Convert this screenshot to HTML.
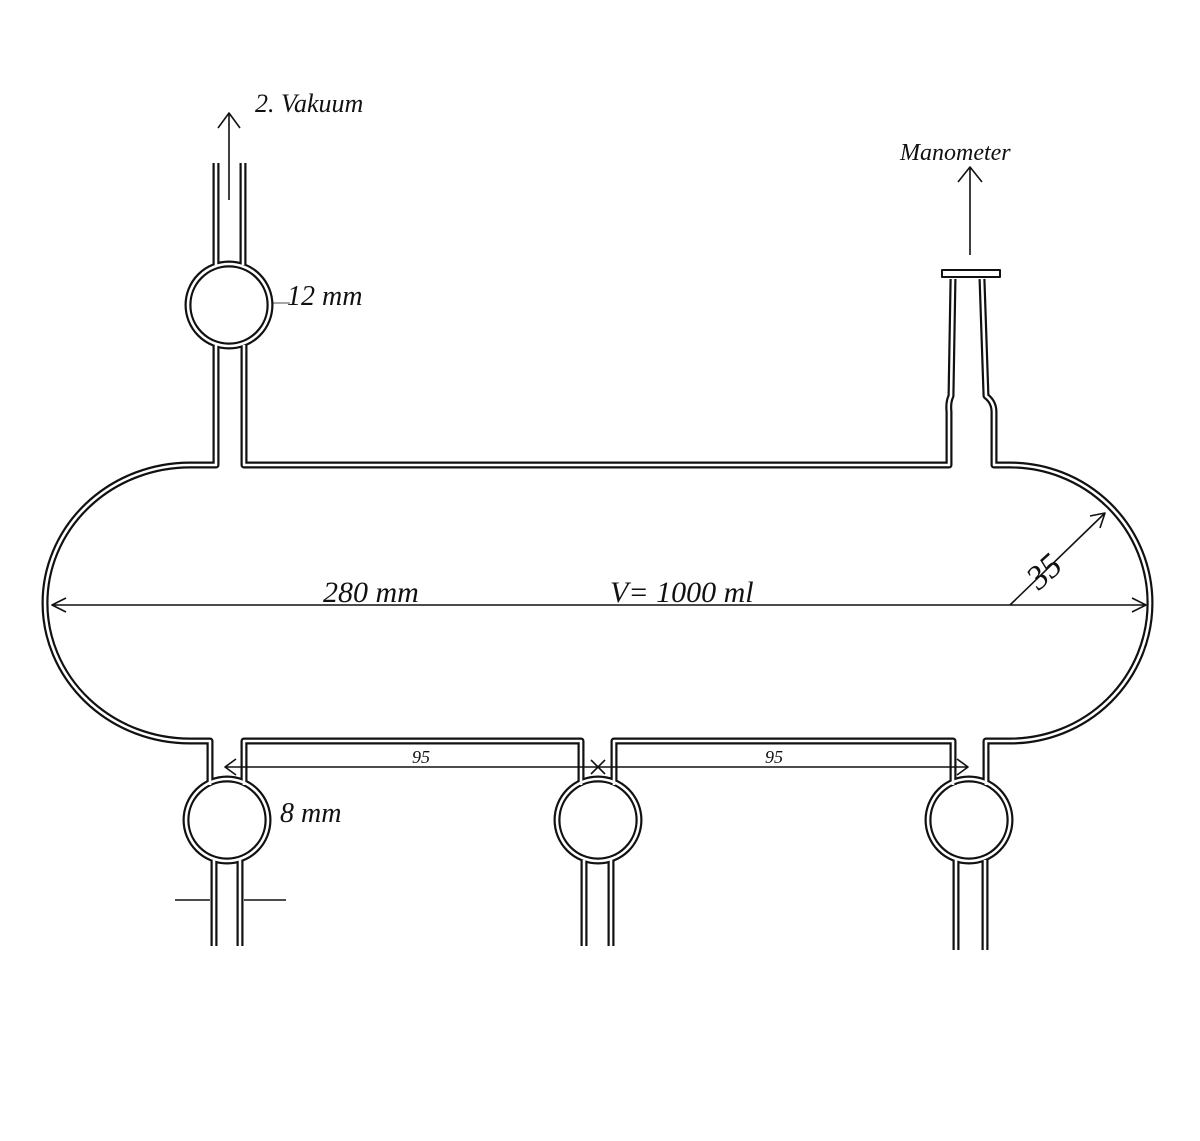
<!DOCTYPE html>
<html><head><meta charset="utf-8"><style>
html,body{margin:0;padding:0;background:#fff;width:1200px;height:1141px;overflow:hidden}
svg{display:block}
text{font-family:"Liberation Serif",serif;font-style:italic;fill:#111}
</style></head><body>
<svg width="1200" height="1141" viewBox="0 0 1200 1141" xmlns="http://www.w3.org/2000/svg">
<rect width="1200" height="1141" fill="#fff"/>
<g fill="none" stroke-linejoin="round" stroke-linecap="butt">
<g stroke="#111" stroke-width="7">
<path d="M216 345 L216 465 L190 465 A145 138 0 0 0 190 741 L210 741 L210 785"/>
<path d="M244 785 L244 741 L581 741 L581 785"/>
<path d="M614 785 L614 741 L953 741 L953 785"/>
<path d="M986 785 L986 741 L1010 741 A140 138 0 0 0 1010 465 L994 465 L994 412 Q994 402 986 396 L982 279"/>
<path d="M953 279 L951 396 Q948 402 949 412 L949 465 L244 465 L244 345"/>
<path d="M216 265 L216 163 M243 265 L243 163"/>
<path d="M214 860 L214 946 M240 860 L240 946"/>
<path d="M584 860 L584 946 M611 860 L611 946"/>
<path d="M956 860 L956 950 M985 860 L985 950"/>
<circle cx="229" cy="305" r="41"/>
<circle cx="227" cy="820" r="41"/>
<circle cx="598" cy="820" r="41"/>
<circle cx="969" cy="820" r="41"/>
</g>
<g stroke="#fff" stroke-width="2.6">
<path d="M216 345 L216 465 L190 465 A145 138 0 0 0 190 741 L210 741 L210 785"/>
<path d="M244 785 L244 741 L581 741 L581 785"/>
<path d="M614 785 L614 741 L953 741 L953 785"/>
<path d="M986 785 L986 741 L1010 741 A140 138 0 0 0 1010 465 L994 465 L994 412 Q994 402 986 396 L982 279"/>
<path d="M953 279 L951 396 Q948 402 949 412 L949 465 L244 465 L244 345"/>
<path d="M216 265 L216 163 M243 265 L243 163"/>
<path d="M214 860 L214 946 M240 860 L240 946"/>
<path d="M584 860 L584 946 M611 860 L611 946"/>
<path d="M956 860 L956 950 M985 860 L985 950"/>
<circle cx="229" cy="305" r="41"/>
<circle cx="227" cy="820" r="41"/>
<circle cx="598" cy="820" r="41"/>
<circle cx="969" cy="820" r="41"/>
</g>
<g fill="#fff" stroke="none">
<circle cx="229" cy="305" r="36.5"/>
<circle cx="227" cy="820" r="36.5"/>
<circle cx="598" cy="820" r="36.5"/>
<circle cx="969" cy="820" r="36.5"/>
</g>
<rect x="942" y="270" width="58" height="7" fill="#fff" stroke="#111" stroke-width="2"/>
<g stroke="#111" stroke-width="1.6">
<path d="M229 200 L229 113 M218 128 L229 113 L240 128"/>
<path d="M970 255 L970 167 M958 182 L970 167 L982 182"/>
<path d="M52 605 L1146 605 M66 598 L52 605 L66 612 M1132 598 L1146 605 L1132 612"/>
<path d="M1010 605 L1105 513 M1090 516 L1105 513 L1100 528"/>
<path d="M225 767 L968 767 M236 759 L225 767 L236 775 M957 759 L968 767 L957 775"/>
<path d="M591 760 L605 774 M605 760 L591 774"/>
<path d="M175 900 L210 900 M244 900 L286 900"/>
<path d="M272 303 L290 303" stroke-width="0.8"/>
</g>
</g>
<text x="255" y="112" font-size="26">2. Vakuum</text>
<text x="900" y="160" font-size="24">Manometer</text>
<text x="287" y="305" font-size="28">12 mm</text>
<text x="280" y="822" font-size="28">8 mm</text>
<text x="323" y="602" font-size="30">280 mm</text>
<text x="610" y="602" font-size="30">V=  1000 ml</text>
<text x="412" y="763" font-size="18">95</text>
<text x="765" y="763" font-size="18">95</text>
<text x="1025" y="585" font-size="34" transform="rotate(-42 1040 570)">35</text>
</svg>
</body></html>
